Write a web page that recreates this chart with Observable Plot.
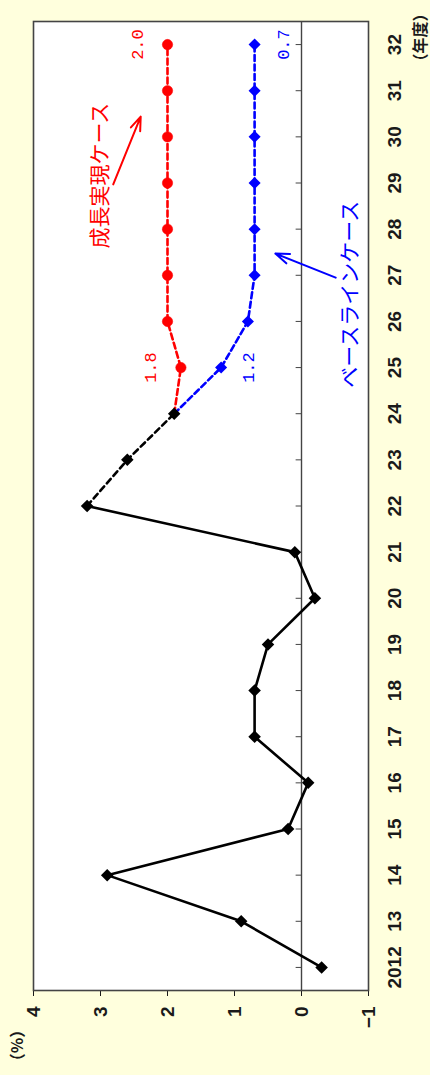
<!DOCTYPE html>
<html>
<head>
<meta charset="utf-8">
<script src="https://cdn.jsdelivr.net/npm/d3@7"></script>
<script src="https://cdn.jsdelivr.net/npm/@observablehq/plot@0.6"></script>
<style>
  html, body { margin: 0; padding: 0; background: #FFFFDD; }
  #wrap { position: relative; width: 430px; height: 1075px; overflow: hidden; background: #FFFFDD; }
  #wrap svg { position: absolute; left: 0; top: 0; width: 1075px !important; height: 430px !important; max-width: none !important; transform-origin: 0 0; transform: translate(0px, 1075px) rotate(-90deg); }
</style>
</head>
<body>
<div id="wrap"></div>
<script>
// ---- data ----
const years = [2012, 2013, 2014, 2015, 2016, 2017, 2018, 2019, 2020, 2021, 2022, 2023, 2024, 2025, 2026, 2027, 2028, 2029, 2030, 2031, 2032];
const yearLabels = ["2012", "13", "14", "15", "16", "17", "18", "19", "20", "21", "22", "23", "24", "25", "26", "27", "28", "29", "30", "31", "32"];
const valueTicks = [-1, 0, 1, 2, 3, 4];
const valueTickLabels = ["−1", "0", "1", "2", "3", "4"];

const actualYears = [2012, 2013, 2014, 2015, 2016, 2017, 2018, 2019, 2020, 2021, 2022];
const actualValues = [-0.3, 0.9, 2.9, 0.2, -0.1, 0.7, 0.7, 0.5, -0.2, 0.1, 3.2];

const estYears = [2022, 2023, 2024];
const estValues = [3.2, 2.6, 1.9];

const caseYears = [2024, 2025, 2026, 2027, 2028, 2029, 2030, 2031, 2032];
const growthValues = [1.9, 1.8, 2.0, 2.0, 2.0, 2.0, 2.0, 2.0, 2.0];
const baselineValues = [1.9, 1.2, 0.8, 0.7, 0.7, 0.7, 0.7, 0.7, 0.7];

const growthName = "成長実現ケース";
const baselineName = "ベースラインケース";
const valueLabels = [
  {year: 2032, value: 2.45, text: "2.0", color: "#FF0000"},
  {year: 2025, value: 2.25, text: "1.8", color: "#FF0000"},
  {year: 2032, value: 0.27, text: "0.7", color: "#0000FF"},
  {year: 2025, value: 0.79, text: "1.2", color: "#0000FF"}
];
const nameLabels = [
  {year: 2029.16, value: 3.0, text: growthName, color: "#FF0000"},
  {year: 2026.59, value: -0.73, text: baselineName, color: "#0000FF"}
];
const arrows = [
  {x1: 2028.97, y1: 2.81, x2: 2030.44, y2: 2.40, color: "#FF0000"},
  {x1: 2026.95, y1: -0.51, x2: 2027.47, y2: 0.39, color: "#0000FF"}
];
const yAxisUnit = "（%）";
const xAxisUnit = "（年度）";

// ---- tables ----
const zip = (xs, ys) => xs.map((x, i) => ({year: x, value: ys[i]}));
const actual = zip(actualYears, actualValues);
const est = zip(estYears, estValues);
const growth = zip(caseYears, growthValues);
const baseline = zip(caseYears, baselineValues);

const RED = "#FF0000", BLUE = "#0000FF", BLACK = "#000000", AXIS = "#444444";

const chart = Plot.plot({
  width: 1075,
  height: 430,
  marginLeft: 84,
  marginRight: 22,
  marginTop: 33,
  marginBottom: 62,
  style: {background: "transparent", fontFamily: "'Liberation Sans', Arial, sans-serif", fontSize: "19px", fontWeight: "bold", color: "#1a1a1a"},
  x: {domain: [2011.5, 2032.5], ticks: years, tickFormat: d => yearLabels[years.indexOf(d)], tickSize: 0, tickPadding: 19, label: null},
  y: {domain: [-1, 4], ticks: valueTicks, tickFormat: d => valueTickLabels[valueTicks.indexOf(d)], tickSize: 5, tickPadding: 11, label: null},
  marks: [
    Plot.frame({fill: "white"}),
    Plot.ruleY([0], {stroke: AXIS, strokeWidth: 1.4}),
    Plot.ruleX(years, {x: d => d, y1: 0, y2: 0.08, stroke: AXIS, strokeWidth: 1}),
    Plot.frame({stroke: AXIS, strokeWidth: 1.6}),
    // growth case (red, circles)
    Plot.line(growth, {x: "year", y: "value", stroke: RED, strokeWidth: 2.6, strokeDasharray: "6,3.5"}),
    Plot.dot(growth.slice(1), {x: "year", y: "value", r: 5.2, fill: RED, stroke: RED, strokeWidth: 0.5}),
    // baseline case (blue, diamonds)
    Plot.line(baseline, {x: "year", y: "value", stroke: BLUE, strokeWidth: 2.6, strokeDasharray: "6,3.5"}),
    Plot.dot(baseline.slice(1), {x: "year", y: "value", symbol: "square", rotate: 45, r: 4.8, fill: BLUE}),
    // actual / estimate (black)
    Plot.line(est, {x: "year", y: "value", stroke: BLACK, strokeWidth: 2.6, strokeDasharray: "6,4"}),
    Plot.line(actual, {x: "year", y: "value", stroke: BLACK, strokeWidth: 2.6}),
    Plot.dot(actual.concat(est.slice(1)), {x: "year", y: "value", symbol: "square", rotate: 45, r: 5, fill: BLACK}),
    // annotations
    Plot.text(valueLabels, {x: "year", y: "value", text: "text", fill: "color", fontFamily: "'Liberation Mono', 'DejaVu Sans Mono', monospace", fontWeight: "normal", fontSize: 17, textAnchor: "middle", lineAnchor: "middle"}),
    Plot.text(nameLabels, {x: "year", y: "value", text: "text", fill: "color", fontFamily: "'Noto Sans CJK JP', sans-serif", fontWeight: "normal", fontSize: 21, textAnchor: "middle", lineAnchor: "middle"}),
    Plot.arrow(arrows, {x1: "x1", y1: "y1", x2: "x2", y2: "y2", stroke: "color", strokeWidth: 2, headLength: 11, headAngle: 40}),
    Plot.text([yAxisUnit], {frameAnchor: "top-left", dx: -55, dy: -16, fontFamily: "'Noto Sans CJK JP', sans-serif", fontWeight: "bold", fontSize: 16, fill: "#1a1a1a", textAnchor: "middle", lineAnchor: "middle"}),
    Plot.text([xAxisUnit], {frameAnchor: "bottom-right", dx: -16, dy: 52, fontFamily: "'Noto Sans CJK JP', sans-serif", fontWeight: "bold", fontSize: 16, fill: "#1a1a1a", textAnchor: "middle", lineAnchor: "middle"})
  ]
});

document.getElementById("wrap").appendChild(chart);
</script>
</body>
</html>
